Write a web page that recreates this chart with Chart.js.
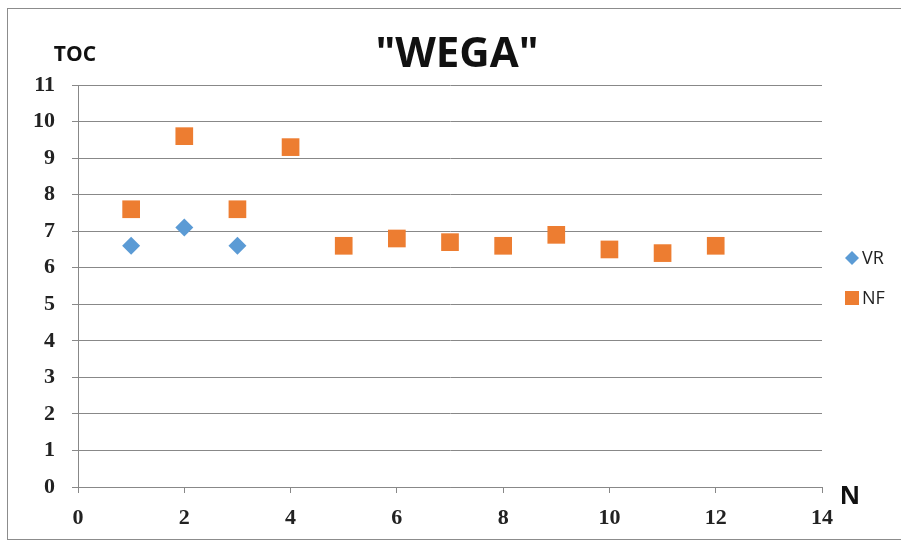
<!DOCTYPE html>
<html>
<head>
<meta charset="utf-8">
<style>
  html, body { margin: 0; padding: 0; background: #fff; }
  #wrap { width: 901px; height: 542px; }
</style>
<script src="https://cdn.jsdelivr.net/npm/chart.js@4/dist/chart.umd.min.js"></script>
</head>
<body>
<div id="wrap"><canvas id="chart" width="901" height="542"></canvas></div>
<script>
// values
const vrN = [1, 2, 3];
const vrToc = [6.6, 7.1, 6.6];
const nfN = [1, 2, 3, 4, 5, 6, 7, 8, 9, 10, 11, 12];
const nfToc = [7.6, 9.6, 7.6, 9.3, 6.6, 6.8, 6.7, 6.6, 6.9, 6.5, 6.4, 6.6];
const xTicks = [0, 2, 4, 6, 8, 10, 12, 14];
const yTicks = [0, 1, 2, 3, 4, 5, 6, 7, 8, 9, 10, 11];

const GRID = '#888888';
const tickFont = { family: '"Liberation Serif", serif', size: 22, weight: 'bold' };

function toPoints(xs, ys) {
  return xs.map((x, i) => ({ x: x, y: ys[i] }));
}

// title, axis names, legend and frame drawn around the plot
const decor = {
  id: 'decor',
  afterDraw(chart) {
    const ctx = chart.ctx;
    ctx.save();
    ctx.strokeStyle = '#8c8c8c';
    ctx.lineWidth = 1;
    ctx.strokeRect(7.5, 8.5, 900, 531);

    ctx.fillStyle = '#111';
    ctx.textBaseline = 'middle';
    ctx.textAlign = 'center';
    ctx.font = 'bold 42px "Open Sans", sans-serif';
    ctx.fillText('"WEGA"', 457, 55);
    ctx.font = 'bold 21px "Open Sans", sans-serif';
    ctx.fillText('TOC', 75, 55);
    ctx.font = 'bold 25px "Open Sans", sans-serif';
    ctx.fillText('N', 850, 497);

    // legend
    const items = [{ y: 258 }, { y: 298 }];
    chart.data.datasets.forEach((ds, i) => {
      const cy = items[i].y;
      ctx.fillStyle = ds.backgroundColor;
      ctx.beginPath();
      if (ds.pointStyle === 'rectRot') {
        ctx.moveTo(852, cy - 7);
        ctx.lineTo(859, cy);
        ctx.lineTo(852, cy + 7);
        ctx.lineTo(845, cy);
      } else {
        ctx.rect(845, cy - 7, 14, 14);
      }
      ctx.closePath();
      ctx.fill();
      ctx.fillStyle = '#222';
      ctx.textAlign = 'left';
      ctx.font = '18px "Open Sans", sans-serif';
      ctx.fillText(ds.label, 862, cy + 1);
    });
    ctx.restore();
  }
};

new Chart(document.getElementById('chart'), {
  type: 'scatter',
  data: {
    datasets: [
      {
        label: 'VR',
        data: toPoints(vrN, vrToc),
        pointStyle: 'rectRot',
        pointRadius: 9,
        backgroundColor: '#5B9BD5',
        borderColor: '#5B9BD5',
        borderWidth: 0
      },
      {
        label: 'NF',
        data: toPoints(nfN, nfToc),
        pointStyle: 'rect',
        pointRadius: 12.5,
        backgroundColor: '#ED7D31',
        borderColor: '#ED7D31',
        borderWidth: 0
      }
    ]
  },
  options: {
    responsive: false,
    animation: false,
    layout: { padding: { top: 85, right: 79, left: 0, bottom: 0 } },
    plugins: {
      legend: { display: false },
      tooltip: { enabled: false },
      title: { display: false }
    },
    scales: {
      x: {
        type: 'linear',
        min: xTicks[0],
        max: xTicks[xTicks.length - 1],
        afterBuildTicks: (s) => { s.ticks = xTicks.map(v => ({ value: v })); },
        afterFit: (s) => { s.height = 55; },
        grid: { drawOnChartArea: false, drawTicks: true, tickLength: 6, color: GRID },
        border: { display: true, color: GRID },
        ticks: { font: tickFont, color: '#222', padding: 12, maxRotation: 0 }
      },
      y: {
        type: 'linear',
        min: yTicks[0],
        max: yTicks[yTicks.length - 1],
        afterBuildTicks: (s) => { s.ticks = yTicks.map(v => ({ value: v })); },
        afterFit: (s) => { s.width = 78; },
        grid: { drawOnChartArea: true, drawTicks: true, tickLength: 6, color: GRID },
        border: { display: true, color: GRID },
        ticks: { font: tickFont, color: '#222', padding: 17 }
      }
    }
  },
  plugins: [decor]
});
</script>
</body>
</html>
